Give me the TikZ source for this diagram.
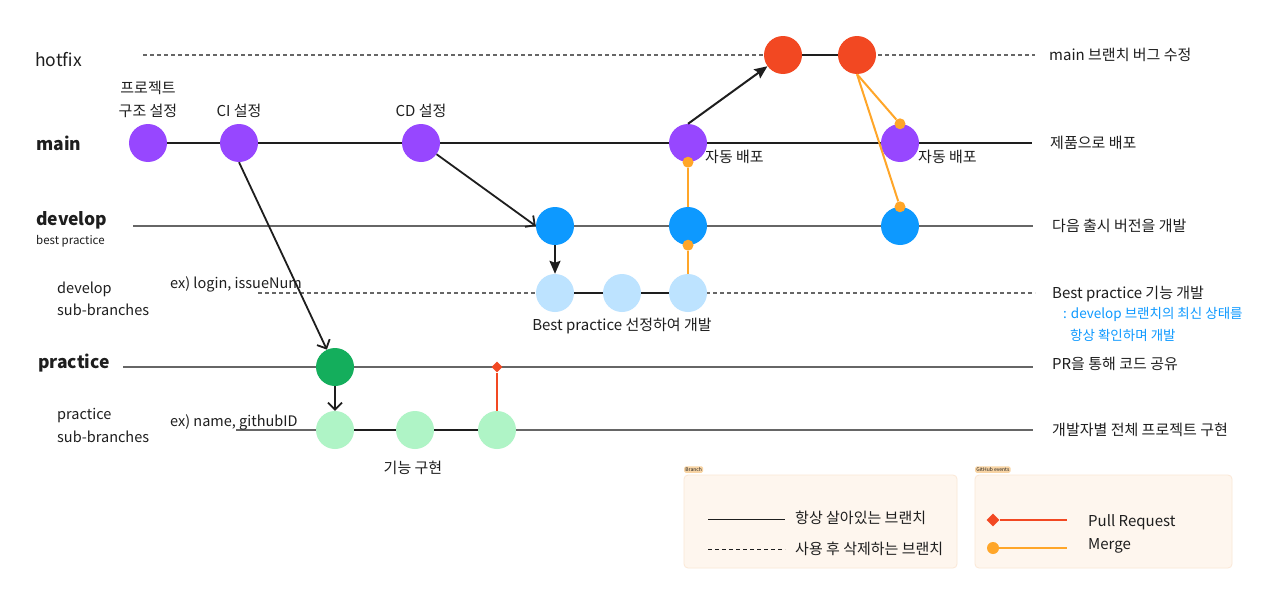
\documentclass[tikz,border=0pt]{standalone}
\usepackage{fontspec}
\setmainfont{Noto Sans CJK KR}
\usetikzlibrary{arrows.meta,backgrounds,shapes.geometric}
\definecolor{ink}{HTML}{1E1E1E}
\definecolor{purp}{HTML}{9747FF}
\definecolor{hot}{HTML}{F24822}
\definecolor{blu}{HTML}{0D99FF}
\definecolor{lblu}{HTML}{BDE3FF}
\definecolor{grn}{HTML}{14AE5C}
\definecolor{lgrn}{HTML}{AFF4C6}
\definecolor{org}{HTML}{FFA629}
\definecolor{lineg}{HTML}{666666}
\definecolor{legbg}{HTML}{FEF6EE}
\definecolor{legbd}{HTML}{FBE8D6}
\definecolor{tagbg}{HTML}{F8D4A4}
\begin{document}
\begin{tikzpicture}[x=1pt,y=-1pt,
  font=\fontsize{15}{17}\selectfont, text=ink,
  commit/.style={circle,minimum size=38pt,inner sep=0pt,draw=none},
  mdot/.style={circle,fill=org,minimum size=11pt,inner sep=0pt},
  mline/.style={draw=org,line width=2pt},
  prline/.style={draw=hot,line width=1.6pt},
  branch/.style={draw=lineg,line width=1.3pt},
  tbranch/.style={draw=ink,line width=2.6pt},
  dbranch/.style={draw=lineg,line width=1.3pt,dash pattern=on 4pt off 3pt},
  openarr/.style={draw=ink,line width=1.8pt,-{Straight Barb[length=7pt,width=14pt,line width=1.8pt]}},
  fillarr/.style={draw=ink,line width=2pt,-{Stealth[length=13pt,width=11pt,inset=2pt]}},
  lbl/.style={anchor=west,inner sep=0pt},
  rowlbl/.style={anchor=west,inner sep=0pt,font=\fontsize{17.5}{20}\selectfont},
  bold/.style={anchor=west,inner sep=0pt,font=\fontsize{17.5}{20}\selectfont\bfseries},
  small/.style={anchor=west,inner sep=0pt,font=\fontsize{11.5}{13}\selectfont},
  sub/.style={anchor=west,inner sep=0pt,font=\fontsize{14.5}{16}\selectfont},
  legbox/.style={draw=legbd,fill=legbg,rounded corners=4pt,line width=0.8pt},
  tag/.style={fill=tagbg,rounded corners=1.5pt,inner sep=1.2pt,font=\fontsize{5}{6}\selectfont}
]
\useasboundingbox (0,0) rectangle (1280,605);

% row labels
\node[rowlbl] (lhot) at (35,60) {hotfix};
\node[bold] (lmain) at (36,143) {main};
\node[bold] (ldev) at (36,220) {develop};
\node[small] (lbp) at (36,241) {best practice};
\node[sub] (lds1) at (57,289) {develop};
\node[sub] (lds2) at (57,310) {sub-branches};
\node[bold] (lpr) at (38,363) {practice};
\node[sub] (lps1) at (57,416) {practice};
\node[sub] (lps2) at (57,437) {sub-branches};
\node[lbl,font=\fontsize{14.5}{16}\selectfont] (exl) at (170,284) {ex) login, issueNum};
\node[lbl,font=\fontsize{14.5}{16}\selectfont] (exn) at (170,422) {ex) name, githubID};

% line end coordinates
\coordinate (hs) at (143,55);  \coordinate (he) at (1035,55);
\coordinate (me) at (1032,143);
\coordinate (ds) at (133,226); \coordinate (de) at (1033,226);
\coordinate (sds) at (258,293); \coordinate (sde) at (1035,293);
\coordinate (ps) at (123,367); \coordinate (pe) at (1033,367);
\coordinate (sps) at (236,430); \coordinate (spe) at (1033,430);

% commits
\node[commit,fill=purp] (m1) at (148,143) {};
\node[commit,fill=purp] (m2) at (239,143) {};
\node[commit,fill=purp] (m3) at (421,143) {};
\node[commit,fill=purp] (m4) at (688,143) {};
\node[commit,fill=purp] (m5) at (900,143) {};
\node[commit,fill=hot] (h1) at (783,55) {};
\node[commit,fill=hot] (h2) at (857,55) {};
\node[commit,fill=blu] (d1) at (555,226) {};
\node[commit,fill=blu] (d2) at (688,226) {};
\node[commit,fill=blu] (d3) at (900,226) {};
\node[commit,fill=lblu] (s1) at (555,293) {};
\node[commit,fill=lblu] (s2) at (622,293) {};
\node[commit,fill=lblu] (s3) at (688,293) {};
\node[commit,fill=grn] (p1) at (335,367) {};
\node[commit,fill=lgrn] (q1) at (335,430) {};
\node[commit,fill=lgrn] (q2) at (415,430) {};
\node[commit,fill=lgrn] (q3) at (497,430) {};

\begin{scope}[on background layer]
\fill[white] (0,0) rectangle (1280,605);
\draw[dbranch] (hs) -- (he);
\draw[branch,draw=ink,line width=1.2pt] (m3) -- (me);
\draw[branch] (ds) -- (de);
\draw[dbranch] (sds) -- (sde);
\draw[branch] (ps) -- (pe);
\draw[branch] (sps) -- (spe);
\end{scope}

% thick branch segments
\draw[tbranch] (m1) -- (m2);
\draw[tbranch] (m2) -- (m3);
\draw[tbranch] (h1) -- (h2);
\draw[tbranch] (s1) -- (s2);
\draw[tbranch] (s2) -- (s3);
\draw[tbranch] (q1) -- (q2);
\draw[tbranch] (q2) -- (q3);

% branch creation arrows
\draw[openarr] (m2.south) -- (p1);
\draw[openarr] (m3) -- (d1.west);
\draw[openarr] (p1) -- (q1);
\draw[fillarr] (d1) -- (s1);
\draw[fillarr] (m4.north) -- (h1);

% merges
\node[mdot] (k1) at (d2.south) {};
\node[mdot] (k2) at (m4.south) {};
\node[mdot] (k3) at (m5.north) {};
\node[mdot] (k4) at (d3.north) {};
\draw[mline] (s3) -- (k1);
\draw[mline] (d2) -- (k2);
\draw[mline] (h2.south) -- (k3);
\draw[mline] (h2.south) -- (k4);

% pull request
\node[diamond,fill=hot,minimum size=11pt,inner sep=0pt] (pr) at (497,367) {};
\draw[prline] (q3) -- (pr);

% commit labels
\node (t1) at (148,88) {프로젝트};
\node (t2) at (148,111) {구조 설정};
\node (t3) at (239,111) {CI 설정};
\node (t4) at (421,111) {CD 설정};
\node[lbl] (t5) at (705,157) {자동 배포};
\node[lbl] (t6) at (918,157) {자동 배포};
\node (t7) at (622,326) {Best practice 선정하여 개발};
\node (t8) at (413,468) {기능 구현};

% right descriptions
\node[lbl] (r1) at (1049,55) {main 브랜치 버그 수정};
\node[lbl] (r2) at (1050,143) {제품으로 배포};
\node[lbl] (r3) at (1052,226) {다음 출시 버전을 개발};
\node[lbl] (r4) at (1052,294) {Best practice 기능 개발};
\node[lbl,text=blu,font=\fontsize{13.5}{15}\selectfont] (r5) at (1063,314) {: develop 브랜치의 최신 상태를};
\node[lbl,text=blu,font=\fontsize{13.5}{15}\selectfont] (r6) at (1070,335) {항상 확인하며 개발};
\node[lbl] (r7) at (1052,364) {PR을 통해 코드 공유};
\node[lbl] (r8) at (1052,430) {개발자별 전체 프로젝트 구현};

% legend: branch
\node[legbox,minimum width=273pt,minimum height=93pt,inner sep=0pt] (lb) at (820.5,521.5) {};
\node[tag,anchor=south west] (tg1) at (684,473) {Branch};
\coordinate (a1) at (708,519); \coordinate (a2) at (785,519);
\coordinate (b1) at (708,549); \coordinate (b2) at (785,549);
\draw[draw=ink,line width=1pt] (a1) -- (a2);
\draw[draw=ink,line width=1pt,dash pattern=on 4pt off 3pt] (b1) -- (b2);
\node[lbl] (lt1) at (795,518) {항상 살아있는 브랜치};
\node[lbl] (lt2) at (795,549) {사용 후 삭제하는 브랜치};

% legend: github events
\node[legbox,minimum width=257pt,minimum height=93pt,inner sep=0pt] (lg) at (1103.5,521.5) {};
\node[tag,anchor=south west] (tg2) at (975,473) {GitHub events};
\node[diamond,fill=hot,minimum size=13pt,inner sep=0pt] (lpd) at (993,520) {};
\coordinate (c2) at (1067,520);
\draw[prline,line width=2.2pt] (lpd) -- (c2);
\node[circle,fill=org,minimum size=12pt,inner sep=0pt] (lmd) at (993,548) {};
\coordinate (e2) at (1067,548);
\draw[mline,line width=2.2pt] (lmd) -- (e2);
\node[lbl] (lt3) at (1088,522) {Pull Request};
\node[lbl] (lt4) at (1088,546) {Merge};
\end{tikzpicture}
\end{document}
